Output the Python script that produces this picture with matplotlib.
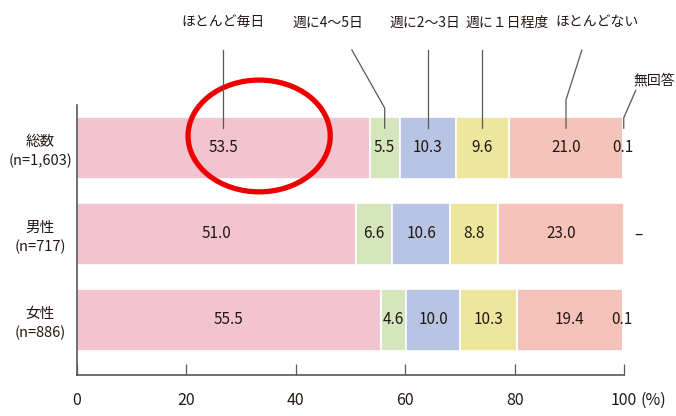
import matplotlib
matplotlib.use("Agg")
import matplotlib.pyplot as plt
from matplotlib.patches import Ellipse
import numpy as np

plt.rcParams['font.family'] = ['Noto Sans CJK JP', 'DejaVu Sans']

groups = ["総数\n(n=1,603)", "男性\n(n=717)", "女性\n(n=886)"]
series = ["ほとんど毎日", "週に4～5日", "週に2～3日", "週に１日程度", "ほとんどない", "無回答"]
values = np.array([
    [53.5, 5.5, 10.3, 9.6, 21.0, 0.1],
    [51.0, 6.6, 10.6, 8.8, 23.0, 0.0],
    [55.5, 4.6, 10.0, 10.3, 19.4, 0.1],
])
labels_txt = [
    ["53.5", "5.5", "10.3", "9.6", "21.0", "0.1"],
    ["51.0", "6.6", "10.6", "8.8", "23.0", "–"],
    ["55.5", "4.6", "10.0", "10.3", "19.4", "0.1"],
]
colors = ["#F2C4D0", "#D6E6BC", "#B8C4E3", "#EEE69C", "#F5C3B9", "#DDF0E6"]
xticks = [0, 20, 40, 60, 80, 100]
txt_c = "#231815"

fig = plt.figure(figsize=(6.76, 4.16), dpi=100)
ax = fig.add_axes([77/676, 41/416, (624-77)/676, (375-105)/416])

ypos = np.arange(len(groups))
bar_h = 0.73
for i in range(len(groups)):
    left = 0.0
    for j in range(len(series)):
        w = values[i, j]
        if w > 0:
            ax.barh(ypos[i], w, left=left, height=bar_h, color=colors[j],
                    edgecolor="white", linewidth=1.2)
        txt = labels_txt[i][j]
        if j < 5:
            ax.text(left + w / 2, ypos[i], txt, ha="center", va="center",
                    fontsize=11, color=txt_c)
        elif w > 0:
            ax.text(left + w / 2 - 0.2, ypos[i], txt, ha="center", va="center",
                    fontsize=11, color=txt_c)
        else:
            ax.text(102.6, ypos[i], txt, ha="center", va="center",
                    fontsize=11, color=txt_c)
        left += w

ax.set_xlim(0, 100)
ax.set_ylim(2.64, -0.5)
ax.set_yticks(ypos)
ax.set_yticklabels(groups, fontsize=10.5, color=txt_c, linespacing=1.35,
                   ha="center")
ax.tick_params(axis="y", length=0, pad=26.5)
ax.set_xticks(xticks)
ax.set_xticklabels([str(t) for t in xticks], fontsize=11.5, color=txt_c)
ax.tick_params(axis="x", direction="in", length=8, width=0.9, color="#595757", pad=12)
for s in ["top", "right"]:
    ax.spines[s].set_visible(False)
for s in ["left", "bottom"]:
    ax.spines[s].set_color("#595757")
    ax.spines[s].set_linewidth(1.2)
ax.annotate("(%)", xy=(100, 0), xycoords=("data", "axes fraction"),
            xytext=(12, -12), textcoords="offset points", ha="left", va="top",
            fontsize=11.5, color=txt_c, annotation_clip=False)

# leader lines and series labels (first row)
cum = np.cumsum(values[0]) - values[0] / 2
lc = "#595757"
y_bar = -0.23
y_top = -1.14
y_lab = -1.46
lab_dx = [0.0, -10.3, -0.5, 4.5, 5.7, 5.5]
top_dx = [0.0, -6.0, 0.0, 0.0, 2.9, 2.2]
elbow_y = [None, -0.465, None, None, -0.56, -0.35]
for j, name in enumerate(series):
    xa = cum[j]
    if j == 5:
        ax.plot([xa, xa, xa + top_dx[j]], [y_bar, elbow_y[j], -0.67], color=lc,
                lw=0.9, clip_on=False)
        ax.text(xa + lab_dx[j], -0.79, name, ha="center", va="center",
                fontsize=10, color=txt_c, clip_on=False)
        continue
    if elbow_y[j] is None:
        ax.plot([xa, xa], [y_bar, y_top], color=lc, lw=0.9, clip_on=False)
    else:
        ax.plot([xa, xa, xa + top_dx[j]], [y_bar, elbow_y[j], y_top], color=lc,
                lw=0.9, clip_on=False)
    ax.text(xa + lab_dx[j], y_lab, name, ha="center", va="center",
            fontsize=10, color=txt_c, clip_on=False)

# red highlight ellipse
ell = Ellipse((33.3, -0.14), 26.0, 1.30, fill=False, edgecolor="#EE0000",
              linewidth=3.8, clip_on=False)
ax.add_patch(ell)

fig.savefig("out.png", dpi=100)
